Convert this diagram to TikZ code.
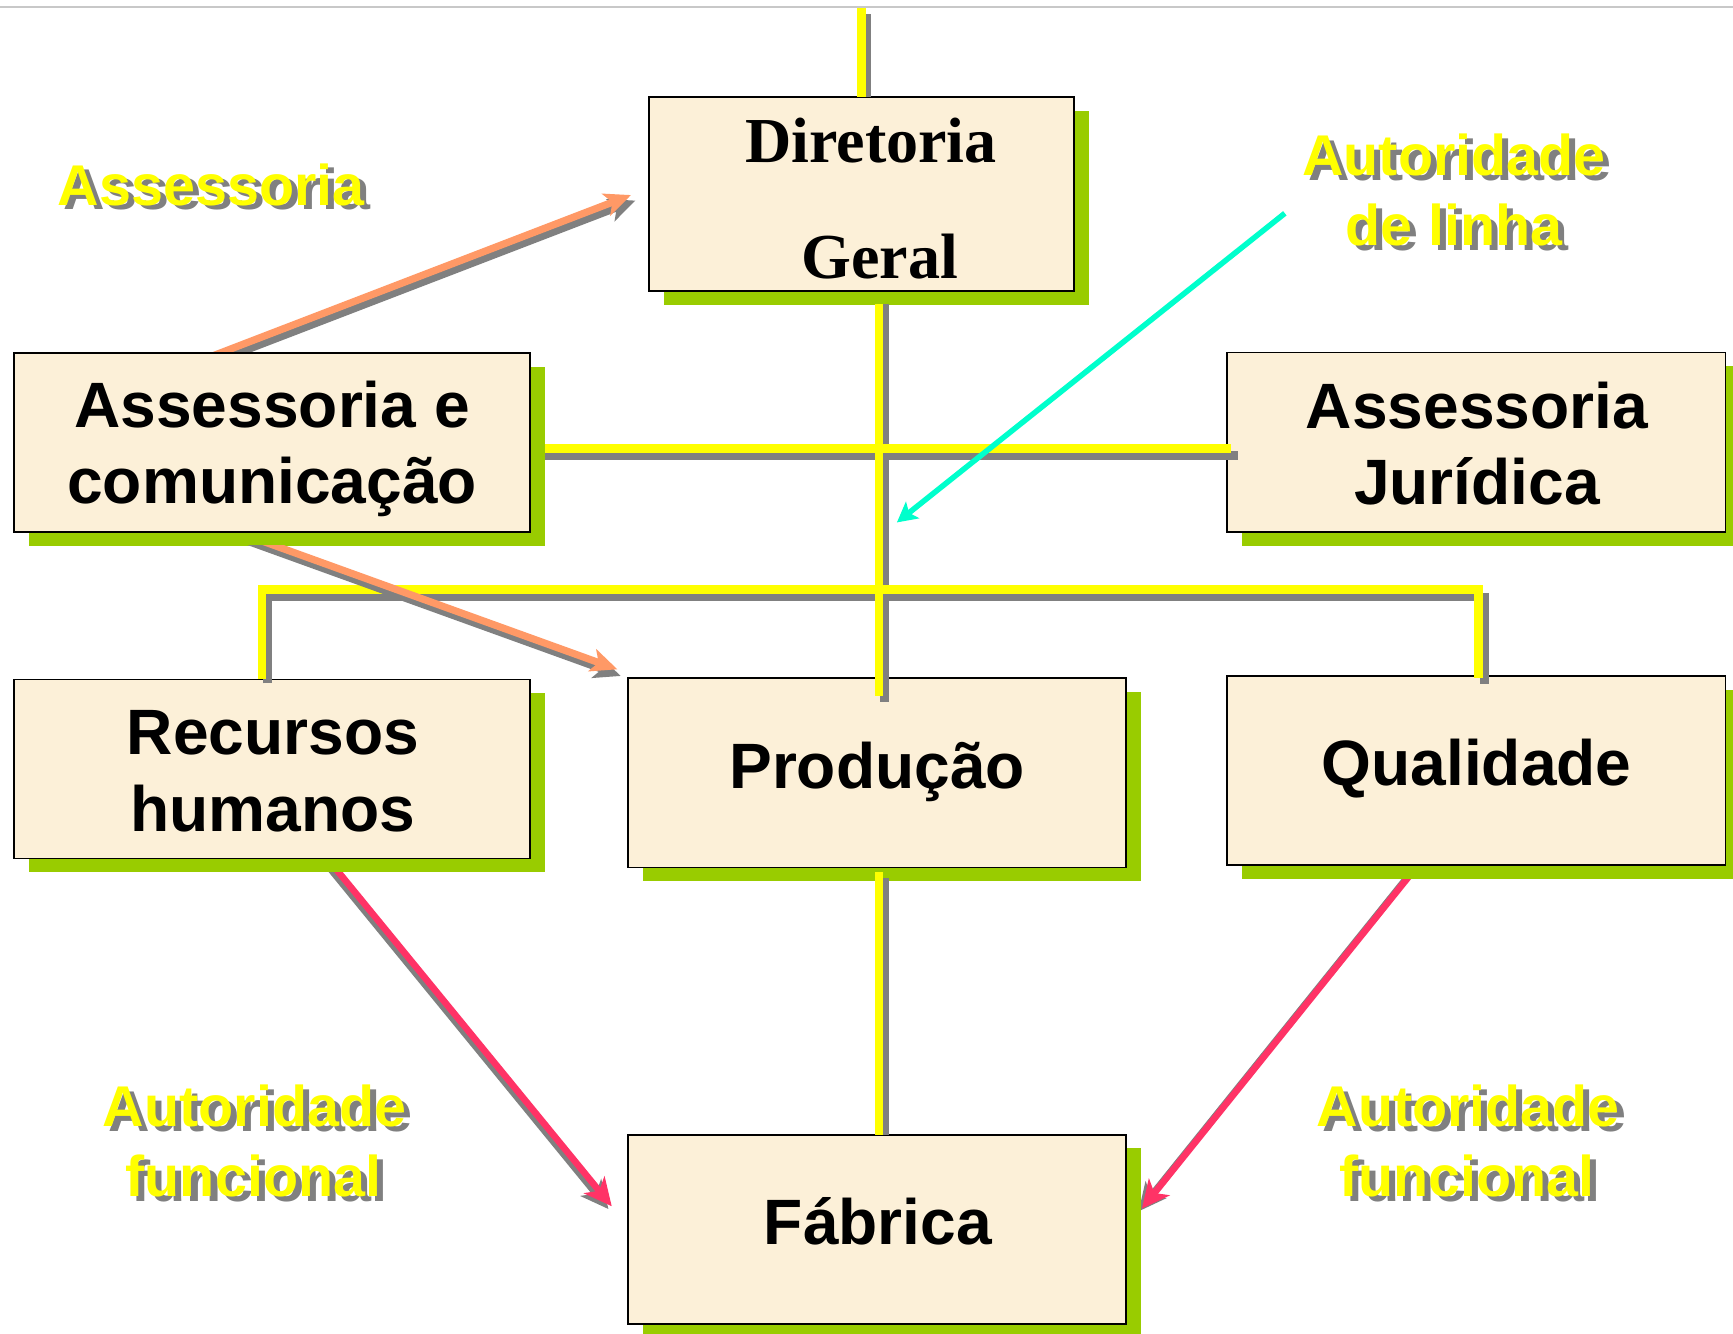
\documentclass[tikz,border=0pt]{standalone}
\usepackage{fontspec}
\setmainfont{Liberation Sans}
\newfontfamily\dirfont{Liberation Serif}
\usetikzlibrary{calc,shadows,arrows.meta}
\pgfdeclarelayer{bg}
\pgfsetlayers{bg,main}
\definecolor{cream}{RGB}{252,240,216}
\definecolor{boxgreen}{RGB}{153,204,0}
\definecolor{lyellow}{RGB}{255,255,0}
\definecolor{lgray}{RGB}{128,128,128}
\definecolor{aorange}{RGB}{255,153,102}
\definecolor{ared}{RGB}{255,51,102}
\definecolor{acyan}{RGB}{0,255,204}
\definecolor{rulegray}{RGB}{200,200,200}
\begin{document}
\begin{tikzpicture}[x=1pt,y=-1pt,line join=miter,
  box/.style={draw=black,line width=1.6pt,fill=cream,inner sep=0pt,outer sep=0pt,
    drop shadow={shadow xshift=13.5pt,shadow yshift=-12.5pt,fill=boxgreen,opacity=1,draw=none}},
  boxtxt/.style={font=\fontsize{58}{69}\selectfont\bfseries,inner sep=0pt,anchor=base,text=black},
  dirtxt/.style={font=\dirfont\fontsize{58}{69}\selectfont\bfseries,inner sep=0pt,anchor=base,text=black},
  ytxt/.style={font=\fontsize{52}{62}\selectfont\bfseries,inner sep=0pt,anchor=base,text=lyellow},
  ytxtshadow/.style={ytxt,text=lgray},
  yline/.style={draw=lyellow,line width=7.8pt},
  yshadow/.style={draw=lgray,line width=7.8pt},
  orangearrow/.style={draw=aorange,line width=6.5pt,-{Stealth[length=24pt,width=21pt,inset=6pt]}},
  orangeshadow/.style={orangearrow,draw=lgray},
  redarrow/.style={draw=ared,line width=6pt,-{Stealth[length=25pt,width=24pt,inset=7pt]}},
  redshadow/.style={redarrow,draw=lgray},
  cyanarrow/.style={draw=acyan,line width=5pt,-{Stealth[length=18pt,width=19pt,inset=4pt]}}
]
\useasboundingbox (0,0) rectangle (1568,1206.1);
\clip (0,0) rectangle (1568,1206.1);
\begin{pgfonlayer}{bg}
  \fill[white] (0,0) rectangle (1568,1206.1);
  \draw[rulegray,line width=1.8pt] (0,6) -- (1568,6);
\end{pgfonlayer}

% boxes
\node[box,minimum width=384.4pt,minimum height=175.9pt] (dir) at (779.2,175.5) {};
\node[box,minimum width=466.7pt,minimum height=162pt] (acom) at (246.25,400.2) {};
\node[box,minimum width=450.8pt,minimum height=162.3pt] (jur) at (1335.8,400.05) {};
\node[box,minimum width=466.7pt,minimum height=162pt] (rh) at (246.25,695.8) {};
\node[box,minimum width=450.5pt,minimum height=171.4pt] (prod) at (793.65,699.3) {};
\node[box,minimum width=450.8pt,minimum height=171pt] (qual) at (1335.8,697.3) {};
\node[box,minimum width=450.9pt,minimum height=171.4pt] (fab) at (793.45,1112.3) {};

% arrows behind the boxes
\coordinate (o1s) at ($(acom.north)+(-72.5,10)$);
\coordinate (o1e) at ($(dir.west)+(-16.1,1)$);
\coordinate (r1s) at ($(rh.south)+(44.45,-6.8)$);
\coordinate (r1e) at ($(fab.west)+(-14.5,-20.9)$);
\coordinate (r2s) at ($(qual.south)+(-50.6,-2.8)$);
\coordinate (r2e) at ($(fab.east)+(14.3,-18.8)$);
\begin{pgfonlayer}{bg}
  \draw[orangeshadow] ($(o1s)+(4,5)$) -- ($(o1e)+(4,5)$);
  \draw[orangearrow] (o1s) -- (o1e);
  \draw[redshadow] ($(r1s)+(-3,2.5)$) -- ($(r1e)+(-3,2.5)$);
  \draw[redarrow] (r1s) -- (r1e);
  \draw[redshadow] ($(r2s)+(-3,2.5)$) -- ($(r2e)+(-3,2.5)$);
  \draw[redarrow] (r2s) -- (r2e);
\end{pgfonlayer}

% line-authority connectors
\coordinate (dtop) at (779.6,7.5);
\coordinate (dtopb) at (dtop |- dir.north);
\coordinate (c2a) at ($(dir.south)+(16.15,12)$);
\coordinate (c2b) at ($(prod.north)+(1.7,16.4)$);
\coordinate (l3a) at ($(acom.east)+(13.7,5.5)$);
\coordinate (l3b) at ($(jur.west)+(3.4,5.65)$);
\coordinate (l4a) at ($(rh.north)+(-9.15,-0.9)$);
\coordinate (l4d) at ($(qual.north)+(1.8,1.5)$);
\coordinate (bus) at ($(prod.north)+(1.7,-80.1)$);
\coordinate (c5a) at ($(prod.south)+(1.5,4.3)$);
\coordinate (c5b) at (c5a |- fab.north);

\draw[yshadow] ($(dtop)+(5,5.2)$) -- ($(dtopb)+(5,0)$);
\draw[yshadow] ($(c2a)+(5.1,0)$) -- ($(c2b)+(5.1,5)$);
\draw[yshadow] ($(l3a)+(0,6.3)$) -- ($(l3b)+(6,6.3)$);
\draw[yshadow] ($(l4a)+(4.8,4.5)$) |- ($(bus)+(0,6.5)$) -| ($(l4d)+(5.5,5.7)$);
\draw[yshadow] ($(c5a)+(5.1,5.2)$) -- ($(c5b)+(5.1,0)$);

\draw[yline] (dtop) -- (dtopb);
\draw[yline] (c2a) -- (c2b);
\draw[yline] (l3a) -- (l3b);
\draw[yline] (l4a) |- (bus) -| (l4d);
\draw[yline] (c5a) -- (c5b);

% staff arrow to Producao (emerges below the box shadow)
\coordinate (o2s) at ($(acom.south)+(-46,-5)$);
\coordinate (o2e) at ($(prod.north west)+(-9.8,-8)$);
\begin{scope}
  \clip (0,493.8) rectangle (1568,1206.1);
  \draw[orangeshadow] ($(o2s)+(3,6)$) -- ($(o2e)+(3,6)$);
  \draw[orangearrow] (o2s) -- (o2e);
\end{scope}

% cyan arrow
\coordinate (cyS) at (1162.5,193);
\coordinate (cyE) at (811.5,472.7);
\draw[cyanarrow] (cyS) -- (cyE);

% box texts
\node[dirtxt] (tdir1) at (788,147) {Diretoria};
\node[dirtxt] (tdir2) at (796,252) {Geral};
\node[boxtxt] (tacom1) at (246.25,386.7) {Assessoria e};
\node[boxtxt] (tacom2) at (246.25,456) {comunicação};
\node[boxtxt] (tjur1) at (1336.3,387.6) {Assessoria};
\node[boxtxt] (tjur2) at (1336.3,456.4) {Jurídica};
\node[boxtxt] (trh1) at (246.9,682.4) {Recursos};
\node[boxtxt] (trh2) at (246.9,752) {humanos};
\node[boxtxt] (tprod) at (793.6,713) {Produção};
\node[boxtxt] (tqual) at (1336,711) {Qualidade};
\node[boxtxt] (tfab) at (794.3,1125.7) {Fábrica};

% yellow labels with grey shadow
\node[ytxtshadow] (sass) at (196.5,190) {Assessoria};
\node[ytxt] (lass) at (191,185.5) {Assessoria};
\node[ytxtshadow] (slin1) at (1321,162.9) {Autoridade};
\node[ytxt] (llin1) at (1315.5,158.4) {Autoridade};
\node[ytxtshadow] (slin2) at (1320.8,226.8) {de linha};
\node[ytxt] (llin2) at (1315.3,222.3) {de linha};
\node[ytxtshadow] (sfl1) at (235.8,1024.1) {Autoridade};
\node[ytxt] (lfl1) at (230.3,1019.6) {Autoridade};
\node[ytxtshadow] (sfl2) at (234.8,1087.5) {funcional};
\node[ytxt] (lfl2) at (229.3,1083) {funcional};
\node[ytxtshadow] (sfr1) at (1333.9,1024.1) {Autoridade};
\node[ytxt] (lfr1) at (1328.4,1019.6) {Autoridade};
\node[ytxtshadow] (sfr2) at (1332.6,1087.5) {funcional};
\node[ytxt] (lfr2) at (1327.1,1083) {funcional};
\end{tikzpicture}
\end{document}
